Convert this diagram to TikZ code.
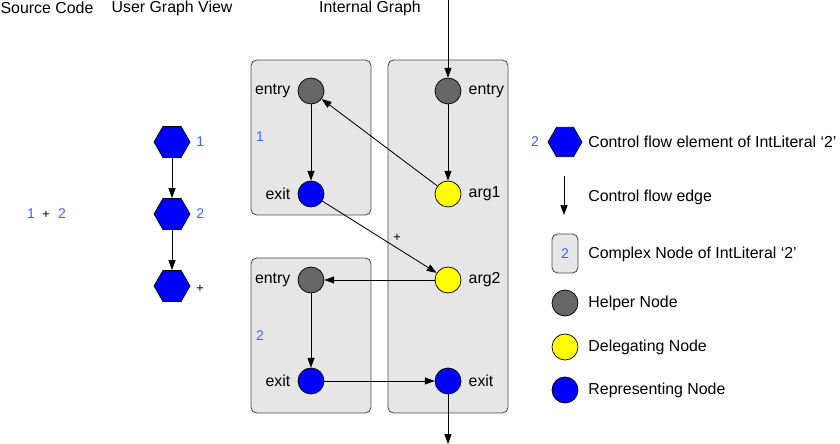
\documentclass[tikz,border=0pt]{standalone}
\usepackage{fontspec}
\setmainfont{Liberation Sans}
\usetikzlibrary{arrows.meta,positioning,shapes.geometric}
\definecolor{cfblue}{HTML}{0000FF}
\definecolor{numblue}{HTML}{3366FF}
\definecolor{helper}{HTML}{666666}
\definecolor{deleg}{HTML}{FFFF00}
\definecolor{boxgray}{HTML}{E6E6E6}

\begin{document}
\begin{tikzpicture}[x=0.025cm, y=-0.025cm,
      txt/.style={font=\fontsize{11.3}{13}\selectfont, inner sep=0pt},
      num/.style={font=\fontsize{10}{12}\selectfont, text=numblue, inner sep=0pt},
      hexa/.style={regular polygon, regular polygon sides=6, draw=black, line width=0.5pt,
                   fill=cfblue, minimum size=0.9cm, inner sep=0pt},
      dot/.style={circle, draw=black, line width=0.5pt, minimum size=0.65cm, inner sep=0pt},
      cnode/.style={draw=black!70, fill=boxgray, rounded corners=4pt, line width=0.6pt},
      arr/.style={-{Triangle[length=7pt,width=5pt]}, line width=0.6pt}]
    \fill[white] (0,0) rectangle (840,444);
    \useasboundingbox (0,0) rectangle (840,444);
    % column titles
    \node[txt] (tsrc) at (47,8) {Source Code};
    \node[txt] (tuser) at (172,8) {User Graph View};
    \node[txt] (tint) at (370,8) {Internal Graph};
    % source code
    \node[txt, font=\fontsize{9}{11}\selectfont] (plus0) at (46,215) {+};
    \node[num] (one0) at (31,214) {1};
    \node[num] (two0) at (62,214) {2};
    % user graph view
    \node[hexa] (h1) at (172,142) {};
    \node[hexa] (h2) at (172,214) {};
    \node[hexa] (hp) at (172,286) {};
    \node[num, right=4pt of h1] (h1l) {1};
    \node[num, right=4pt of h2] (h2l) {2};
    \node[txt, font=\fontsize{9}{11}\selectfont, right=4pt of hp, yshift=-2pt] (hpl) {+};
    \draw[arr] (h1) -- (h2);
    \draw[arr] (h2) -- (hp);
    % internal graph: complex nodes
    \draw[cnode] (251,60) rectangle (371,215) node[pos=0] (b1) {};
    \draw[cnode] (388,60) rectangle (508,413) node[pos=0] (bR) {};
    \draw[cnode] (251,258) rectangle (371,413) node[pos=0] (b2) {};
    \node[num] (b1l) at (260,137) {1};
    \node[num] (b2l) at (260,336) {2};
    % internal graph: nodes
    \node[dot, fill=helper] (e1) at (311,91) {};
    \node[dot, fill=cfblue] (x1) at (311,194) {};
    \node[dot, fill=helper] (eR) at (448,91) {};
    \node[dot, fill=deleg] (a1) at (448,194) {};
    \node[dot, fill=deleg] (a2) at (448,280) {};
    \node[dot, fill=cfblue] (xR) at (448,381) {};
    \node[dot, fill=helper] (e2) at (311,280) {};
    \node[dot, fill=cfblue] (x2) at (311,381) {};
    \foreach \n/\t in {e1/entry, x1/exit, e2/entry, x2/exit}
      \node[txt, left=5pt of \n] (\n l) {\t};
    \foreach \n/\t in {eR/entry, a1/arg1, a2/arg2, xR/exit}
      \node[txt, right=5pt of \n] (\n l) {\t};
    \coordinate (inR) at (448,0);
    \coordinate (outR) at (448,444);
    \draw[arr] (inR) -- (eR);
    \draw[arr] (eR) -- (a1);
    \draw[arr] (a1) -- (e1);
    \draw[arr] (e1) -- (x1);
    \draw[arr] (x1) -- node[txt, font=\fontsize{9}{11}\selectfont, pos=0.6, above right=2pt] (plus1) {+} (a2);
    \draw[arr] (a2) -- (e2);
    \draw[arr] (e2) -- (x2);
    \draw[arr] (x2) -- (xR);
    \draw[arr] (xR) -- (outR);
    % legend
    \node[hexa, minimum size=0.85cm] (lh) at (565,142) {};
    \node[num, left=6pt of lh] (lhn) {2};
    \node[txt, anchor=west] (lht) at (588,142) {Control flow element of IntLiteral ‘2’};
    \coordinate (la) at (564,176);
    \coordinate (lb) at (564,215);
    \draw[arr] (la) -- (lb);
    \node[txt, anchor=west] (lat) at (588,197) {Control flow edge};
    \draw[cnode] (552,234) rectangle (578,273) node[pos=0.5, num] (lcn) {2};
    \node[txt, anchor=west] (lct) at (588,254) {Complex Node of IntLiteral ‘2’};
    \node[dot, fill=helper] (lhelp) at (565,303) {};
    \node[dot, fill=deleg] (ldel) at (565,347) {};
    \node[dot, fill=cfblue] (lrep) at (565,390) {};
    \node[txt, right=7pt of lhelp] (lhelpt) {Helper Node};
    \node[txt, right=7pt of ldel] (ldelt) {Delegating Node};
    \node[txt, right=7pt of lrep] (lrept) {Representing Node};
  \end{tikzpicture}
\end{document}
